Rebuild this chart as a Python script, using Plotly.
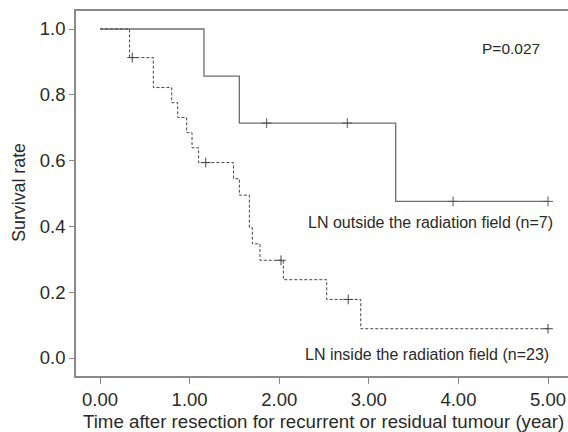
import plotly.graph_objects as go

# Kaplan-Meier step data
in_time = [0, 0.33, 0.595, 0.80, 0.867, 0.967, 1.027, 1.10, 1.49, 1.555, 1.667, 1.70, 1.785, 2.046, 2.53, 2.91, 5.0]
in_surv = [1.0, 0.913, 0.822, 0.776, 0.731, 0.685, 0.639, 0.594, 0.545, 0.495, 0.396, 0.347, 0.297, 0.238, 0.178, 0.089, 0.089]
in_cens_time = [0.36, 1.18, 2.02, 2.77, 5.0]
in_cens_surv = [0.913, 0.594, 0.297, 0.178, 0.089]

out_time = [0, 1.16, 1.555, 3.30, 5.0]
out_surv = [1.0, 0.857, 0.714, 0.476, 0.476]
out_cens_time = [1.86, 2.76, 3.94, 5.0]
out_cens_surv = [0.714, 0.714, 0.476, 0.476]

x_ticks = [0, 1, 2, 3, 4, 5]
x_ticktext = ["0.00", "1.00", "2.00", "3.00", "4.00", "5.00"]
y_ticks = [0.0, 0.2, 0.4, 0.6, 0.8, 1.0]
y_ticktext = ["0.0", "0.2", "0.4", "0.6", "0.8", "1.0"]

FONT = "Liberation Sans, Arial, Helvetica, sans-serif"
TXT = "#2a2a2a"

fig = go.Figure()
fig.add_trace(go.Scatter(x=out_time, y=out_surv, mode="lines", line_shape="hv",
                         line=dict(color="#6e6e6e", width=1.3), showlegend=False, hoverinfo="skip"))
fig.add_trace(go.Scatter(x=out_cens_time, y=out_cens_surv, mode="markers",
                         marker=dict(symbol="cross-thin", size=7, line=dict(color="#555555", width=1)),
                         showlegend=False, hoverinfo="skip"))
fig.add_trace(go.Scatter(x=in_time, y=in_surv, mode="lines", line_shape="hv",
                         line=dict(color="#444444", width=1, dash="3px,2px"), showlegend=False, hoverinfo="skip"))
fig.add_trace(go.Scatter(x=in_cens_time, y=in_cens_surv, mode="markers",
                         marker=dict(symbol="cross-thin", size=7, line=dict(color="#444444", width=1)),
                         showlegend=False, hoverinfo="skip"))

fig.add_annotation(x=4.59, y=0.942, xref="x", yref="y", text="P=0.027", showarrow=False,
                   font=dict(family=FONT, size=15.5, color=TXT), xanchor="center", yanchor="middle")
fig.add_annotation(x=5.08, y=0.413, xref="x", yref="y", text="LN outside the radiation field (n=7)",
                   showarrow=False, font=dict(family=FONT, size=16, color=TXT), xanchor="right", yanchor="middle")
fig.add_annotation(x=5.03, y=0.012, xref="x", yref="y", text="LN inside the radiation field (n=23)",
                   showarrow=False, font=dict(family=FONT, size=16, color=TXT), xanchor="right", yanchor="middle")
fig.add_annotation(x=0.503, y=-0.124, xref="paper", yref="paper",
                   text="Time after resection for recurrent or residual tumour (year)",
                   showarrow=False, font=dict(family=FONT, size=18.7, color=TXT), xanchor="center", yanchor="middle")
fig.add_annotation(x=-0.115, y=0.503, xref="paper", yref="paper", text="Survival rate", textangle=-90,
                   showarrow=False, font=dict(family=FONT, size=17.8, color=TXT), xanchor="center", yanchor="middle")

fig.update_layout(
    width=568, height=432,
    margin=dict(l=76, r=0, t=11, b=56),
    paper_bgcolor="white", plot_bgcolor="white",
    font=dict(family=FONT, color=TXT),
    xaxis=dict(range=[-0.268, 5.223], tickvals=x_ticks, ticktext=x_ticktext,
               showgrid=False, zeroline=False, showline=True, linecolor="#8a8a8a", linewidth=1.5,
               mirror=True, ticks="outside", ticklen=6, tickcolor="#8a8a8a", tickwidth=1,
               tickfont=dict(family=FONT, size=18.5, color=TXT)),
    yaxis=dict(range=[-0.0547, 1.0547], tickvals=y_ticks, ticktext=y_ticktext,
               showgrid=False, zeroline=False, showline=True, linecolor="#8a8a8a", linewidth=1.5,
               ticks="outside", ticklen=5, tickcolor="#8a8a8a", tickwidth=1,
               tickfont=dict(family=FONT, size=18.5, color=TXT)),
)

fig.write_html("out.html")
